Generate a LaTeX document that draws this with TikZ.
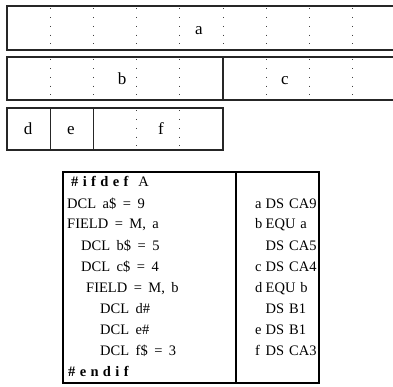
\documentclass[tikz,border=0pt]{standalone}
\usepackage{fontspec}
\setmainfont{Liberation Serif}
\newfontfamily\kwfont[LetterSpace=30]{Liberation Serif}
\newcommand\kw[1]{{\kwfont\bfseries #1}}
\newcommand\lbl[1]{\makebox[10.5pt][l]{#1}}
% listing fonts with fixed inter-word gaps
\newcommand\srcfont{\fontsize{14.5}{17}\selectfont\spaceskip 6.5pt\relax}
\newcommand\asmfont{\fontsize{14.5}{17}\selectfont\spaceskip 5pt\relax}

\tikzset{
  frame/.style={line width=1.2pt, draw=black!85},
  dotline/.style={line width=0.9pt, draw=black!75, dash pattern=on 0.9pt off 7.8pt},
  cell/.style={anchor=base, inner sep=0, font=\fontsize{17}{20}\selectfont},
  code/.style={anchor=base west, inner sep=0, font=\srcfont},
  asm/.style={anchor=base west, inner sep=0, font=\asmfont},
  tbl/.style={line width=1.6pt, draw=black},
}

\begin{document}
\begin{tikzpicture}[x=1pt, y=-1pt]
  \clip (0,0) rectangle (393,387);
  \fill[white] (0,0) rectangle (393,387);

  % byte grid: unit width 43.2, origin at x = 7
  \def\ux{43.2}
  % --- row a
  \draw[frame] (400,6) -- (7,6) -- (7,50) -- (400,50);
  \foreach \k in {1,...,8}
    \draw[dotline] ({7+\k*\ux},8.5) -- ({7+\k*\ux},50);
  \node[cell] (la) at (199,35) {a};

  % --- row b / c
  \draw[frame] (400,57) -- (7,57) -- (7,100) -- (400,100);
  \draw[frame] ({7+5*\ux},57) -- ({7+5*\ux},100);
  \foreach \k in {1,2,3,4,6,7,8}
    \draw[dotline] ({7+\k*\ux},59.5) -- ({7+\k*\ux},100);
  \node[cell] (lb) at (122,85) {b};
  \node[cell] (lc) at (285,85) {c};

  % --- row d / e / f
  \draw[frame] (7,108) rectangle ({7+5*\ux},150);
  \draw[frame] ({7+1*\ux},108) -- ({7+1*\ux},150);
  \draw[frame] ({7+2*\ux},108) -- ({7+2*\ux},150);
  \foreach \k in {3,4}
    \draw[dotline] ({7+\k*\ux},110.5) -- ({7+\k*\ux},150);
  \node[cell] (ld) at (28,135) {d};
  \node[cell] (le) at (71,135) {e};
  \node[cell] (lf) at (161,135) {f};

  % --- source / assembler listing
  \draw[tbl] (63,172) rectangle (319,383);
  \draw[tbl] (236,172) -- (236,383);

  \node[code] (s1)  at (71,187) {\kw{\#ifdef}\hspace{10pt}A};
  \node[code] (s2)  at (67,208) {DCL a\$ = 9};
  \node[code] (s3)  at (67,229) {FIELD = M, a};
  \node[code] (s4)  at (81,250) {DCL b\$ = 5};
  \node[code] (s5)  at (81,271) {DCL c\$ = 4};
  \node[code] (s6)  at (86,292) {FIELD = M, b};
  \node[code] (s7)  at (100,313) {DCL d\#};
  \node[code] (s8)  at (100,334) {DCL e\#};
  \node[code] (s9)  at (100,355) {DCL f\$ = 3};
  \node[code] (s10) at (68,376) {\kw{\#endif}};

  \node[asm] (t2) at (255,208) {\lbl{a}DS CA9};
  \node[asm] (t3) at (255,229) {\lbl{b}EQU a};
  \node[asm] (t4) at (255,250) {\lbl{}DS CA5};
  \node[asm] (t5) at (255,271) {\lbl{c}DS CA4};
  \node[asm] (t6) at (255,292) {\lbl{d}EQU b};
  \node[asm] (t7) at (255,313) {\lbl{}DS B1};
  \node[asm] (t8) at (255,334) {\lbl{e}DS B1};
  \node[asm] (t9) at (255,355) {\lbl{f}DS CA3};
\end{tikzpicture}
\end{document}
